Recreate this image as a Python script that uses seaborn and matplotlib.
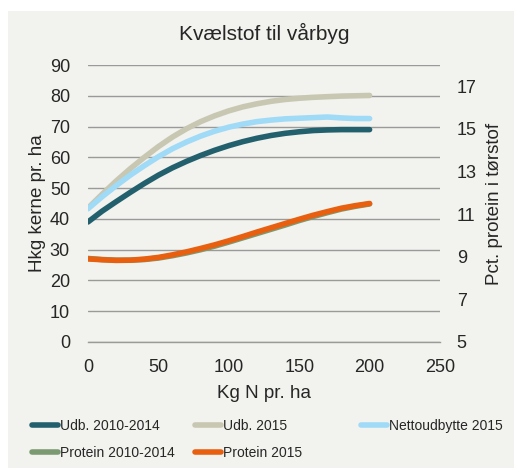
import numpy as np
import pandas as pd
import seaborn as sns
import matplotlib.pyplot as plt
from matplotlib.patches import Rectangle

# kg N pr. ha
kg_n = [0, 10, 20, 30, 40, 50, 60, 70, 80, 90, 100, 110, 120, 130, 140, 150, 160, 170, 180, 190, 200]

# hkg kerne pr. ha (left axis)
udb_1014 = [39.0, 42.5, 45.6, 48.6, 51.5, 54.2, 56.6, 58.7, 60.6, 62.3, 63.8, 65.1, 66.2, 67.1, 67.8,
            68.3, 68.7, 68.9, 69.0, 69.0, 69.0]
udb_2015 = [43.5, 48.0, 52.3, 56.3, 60.0, 63.5, 66.6, 69.3, 71.6, 73.5, 75.1, 76.4, 77.4, 78.2, 78.8,
            79.2, 79.5, 79.7, 79.9, 80.0, 80.1]
netto_2015 = [43.3, 47.2, 50.8, 54.2, 57.3, 60.2, 62.8, 65.0, 66.9, 68.5, 69.8, 70.8, 71.6, 72.1, 72.5,
              72.7, 72.9, 73.1, 72.8, 72.6, 72.6]

# pct. protein i tørstof (right axis)
protein_1014 = [8.92, 8.87, 8.84, 8.84, 8.87, 8.94, 9.05, 9.18, 9.33, 9.50, 9.69, 9.89, 10.09, 10.29,
                10.49, 10.70, 10.89, 11.07, 11.24, 11.37, 11.48]
protein_2015 = [8.90, 8.86, 8.83, 8.84, 8.89, 8.97, 9.09, 9.23, 9.39, 9.56, 9.75, 9.95, 10.16, 10.36,
                10.56, 10.76, 10.95, 11.12, 11.28, 11.40, 11.50]

left_ticks = [0, 10, 20, 30, 40, 50, 60, 70, 80, 90]
right_ticks = [5, 7, 9, 11, 13, 15, 17]
x_ticks = [0, 50, 100, 150, 200, 250]

sns.set_style('white')
plt.rcParams['font.family'] = ['Liberation Sans', 'DejaVu Sans']

df = pd.DataFrame({'kg_n': kg_n, 'udb_1014': udb_1014, 'udb_2015': udb_2015, 'netto_2015': netto_2015,
                   'protein_1014': protein_1014, 'protein_2015': protein_2015})

bg = '#f2f2ee'
fig = plt.figure(figsize=(5.15, 4.7), dpi=100, facecolor='white')
fig.patches.append(Rectangle((8 / 515, 2 / 470), 506 / 515, 457 / 470, transform=fig.transFigure,
                             facecolor=bg, edgecolor='none', zorder=-10))

ax = fig.add_axes([88 / 515, 1 - 342 / 470, 352 / 515, 277 / 470])
ax.set_facecolor('none')
ax2 = ax.twinx()

lw = 4
kw = dict(solid_capstyle='round', linewidth=lw)
sns.lineplot(data=df, x='kg_n', y='udb_1014', ax=ax, color='#23606e', label='Udb. 2010-2014', **kw)
sns.lineplot(data=df, x='kg_n', y='udb_2015', ax=ax, color='#c8c7b2', label='Udb. 2015', **kw)
sns.lineplot(data=df, x='kg_n', y='netto_2015', ax=ax, color='#9fdaf7', label='Nettoudbytte 2015', **kw)
sns.lineplot(data=df, x='kg_n', y='protein_1014', ax=ax2, color='#7b9a72', label='Protein 2010-2014', **kw)
sns.lineplot(data=df, x='kg_n', y='protein_2015', ax=ax2, color='#e8600f', label='Protein 2015', **kw)

ax.set_xlim(0, 250)
ax.set_ylim(0, 90)
ax2.set_ylim(5, 18)
ax.set_xticks(x_ticks)
ax.set_yticks(left_ticks)
ax2.set_yticks(right_ticks)

ax.grid(axis='y', color='#9a9a9a', linewidth=1)
ax.set_axisbelow(True)
for a in (ax, ax2):
    for s in a.spines.values():
        s.set_visible(False)
ax.spines['bottom'].set_visible(True)
ax.spines['bottom'].set_color('#9a9a9a')
ax.spines['bottom'].set_linewidth(1)

ax.tick_params(axis='x', length=4, width=1, color='#9a9a9a', pad=8, labelsize=13)
ax.tick_params(axis='y', length=0, pad=13, labelsize=13)
ax2.tick_params(axis='y', length=0, pad=12, labelsize=13)

ax.set_xlabel('Kg N pr. ha', fontsize=13.5, labelpad=7)
ax.set_ylabel('Hkg kerne pr. ha', fontsize=13.5, labelpad=3)
ax2.set_ylabel('Pct. protein i tørstof', fontsize=13.5, labelpad=7)
ax.set_title('Kvælstof til vårbyg', fontsize=15, pad=18)

h1, l1 = ax.get_legend_handles_labels()
h2, l2 = ax2.get_legend_handles_labels()
ax.get_legend().remove()
ax2.get_legend().remove()
handles = dict(zip(l1 + l2, h1 + h2))

leg_kw = dict(frameon=False, fontsize=10, handlelength=1.9, handletextpad=0.1, labelspacing=0.95,
              borderpad=0, borderaxespad=0, loc='upper left')
columns = [(['Udb. 2010-2014', 'Protein 2010-2014'], 32),
           (['Udb. 2015', 'Protein 2015'], 195),
           (['Nettoudbytte 2015'], 361)]
for labels, xpx in columns:
    fig.legend([handles[l] for l in labels], labels, bbox_to_anchor=(xpx / 515, 1 - 419 / 470), **leg_kw)

fig.savefig('out.png', dpi=100, facecolor='white')
